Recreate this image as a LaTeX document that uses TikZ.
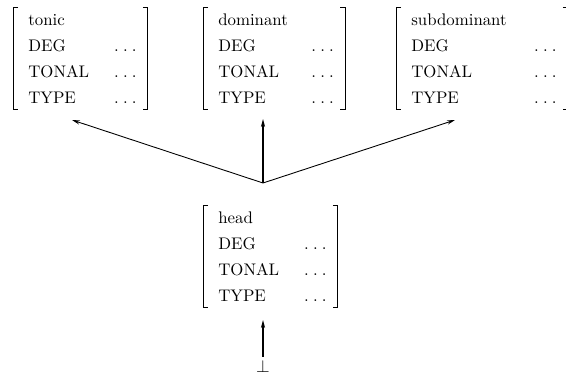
\documentclass[tikz,border=0pt]{standalone}
\usetikzlibrary{arrows.meta,calc}
\renewcommand{\arraystretch}{1.3}
% spaced ellipsis used as the value of every feature
\newcommand{\featval}{.\kern2.6pt.\kern2.6pt.}
% feature structure: first column of fixed width, value column of dots
\newcommand{\featstruct}[2]{%
  \begin{tabular}{@{}p{#1}@{}l@{}}
    #2 & \\
    DEG & \featval \\
    TONAL & \featval \\
    TYPE & \featval
  \end{tabular}}
% square brackets around a feature structure node
\newcommand{\avmbrackets}[1]{%
  \draw[brk] ($(#1.north west)+(-10,0)$) -- ++(-5,0) -- ($(#1.south west)+(-15,-2)$) -- ++(5,0);
  \draw[brk] ($(#1.north east)+(6,0)$) -- ++(5,0) -- ($(#1.south east)+(11,-2)$) -- ++(-5,0);}
\begin{document}
\begin{tikzpicture}[x=0.625pt,y=-0.625pt,
  avm/.style={anchor=north west, inner sep=0pt, font=\fontsize{10.5}{12.5}\selectfont},
  brk/.style={line width=0.6pt},
  thinarrow/.style={line width=0.55pt,-{Stealth[length=5pt,width=2.6pt]}},
  thickarrow/.style={line width=1.2pt,-{Stealth[length=5pt,width=2.6pt]}}]
  \useasboundingbox (0,0) rectangle (566,379);

  % the three functional categories
  \node[avm] (tonic) at (28,7) {\featstruct{53.7pt}{tonic}};
  \node[avm] (dominant) at (218,7) {\featstruct{58.2pt}{dominant}};
  \node[avm] (subdominant) at (411,7) {\featstruct{76.8pt}{subdominant}};
  % the head structure
  \node[avm] (head) at (218,205) {\featstruct{53.7pt}{head}};
  % bottom element
  \node[inner sep=0pt, font=\fontsize{10.5}{12.5}\selectfont] (bot) at (263,366) {$\bot$};

  \avmbrackets{tonic}
  \avmbrackets{dominant}
  \avmbrackets{subdominant}
  \avmbrackets{head}

  % branching point above the head and arrow targets
  \coordinate (fork) at (263,183);
  \coordinate (tonicend) at (72,120);
  \coordinate (dominantend) at (263,119);
  \coordinate (subdominantend) at (455,120);
  \coordinate (headend) at (263,320);

  \draw[thinarrow] (fork) -- (tonicend);
  \draw[thickarrow] (fork) -- (dominantend);
  \draw[thinarrow] (fork) -- (subdominantend);
  \draw[thickarrow] (bot.north) ++(0,-3) -- (headend);
\end{tikzpicture}
\end{document}
